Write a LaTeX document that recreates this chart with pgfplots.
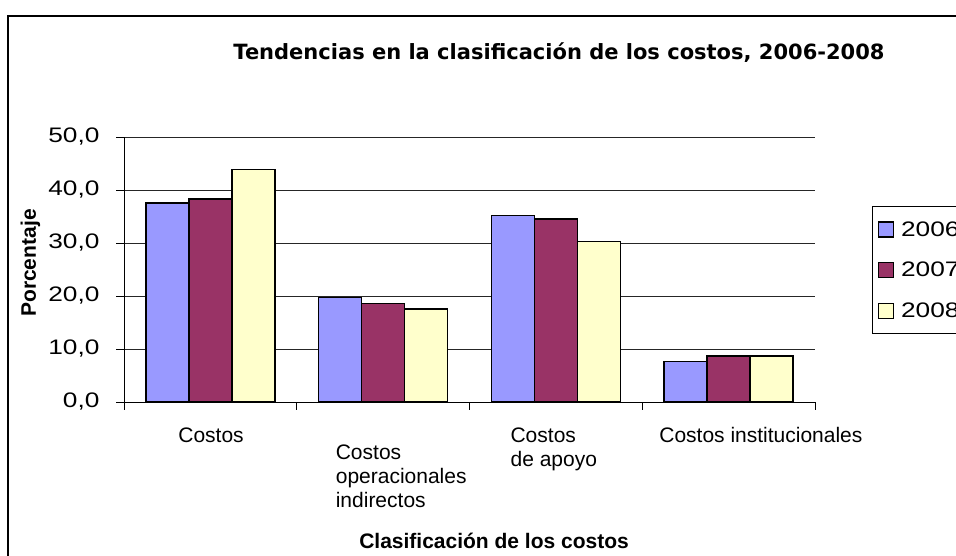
\documentclass[border=0pt]{standalone}
\usepackage{pgfplots}
\pgfplotsset{compat=1.18}
\usepackage{fontspec}
\setmainfont{Liberation Sans}
\newfontfamily\titlefont{DejaVu Sans}
\newfontfamily\widefont[FakeStretch=1.25]{Liberation Sans}
\definecolor{c2006}{HTML}{9999FF}
\definecolor{c2007}{HTML}{993366}
\definecolor{c2008}{HTML}{FFFFCC}
\newcommand\lab[3]{\makebox[0pt][l]{\hspace*{#1}\raisebox{#2}{\begin{tabular}[t]{@{}l@{}}#3\end{tabular}}}}
\begin{document}
\begin{tikzpicture}[x=1bp,y=1bp]
\path[use as bounding box] (0,0) rectangle (956,556);
\draw[line width=1.2bp] (8,-5) -- (8,540) -- (960,540);
\begin{axis}[
  at={(124bp,154bp)}, anchor=south west,
  width=691bp, height=265bp, scale only axis,
  xmin=-0.5, xmax=3.5, ymin=0, ymax=50,
  axis lines*=left,
  axis line style={line width=0.8bp, black},
  xtick={-0.5,0.5,1.5,2.5,3.5}, xticklabels={},
  extra x ticks={0,1,2,3},
  extra x tick labels={{\makebox[0pt]{Costos}},{\lab{-48bp}{-17bp}{Costos\\operacionales\\indirectos}},{\lab{-46bp}{0bp}{Costos\\de apoyo}},{\lab{-70bp}{0bp}{Costos institucionales}}},
  extra x tick style={major tick length=0pt, xticklabel style={anchor=base west, inner sep=0pt, yshift=-41bp, font=\fontsize{21bp}{24bp}\selectfont}},
  ytick={0,10,20,30,40,50},
  ymajorgrids, grid style={black!85, line width=0.9bp},
  tick align=outside, major tick length=8bp,
  tick style={black, line width=0.8bp},
  /pgf/number format/fixed, /pgf/number format/fixed zerofill,
  /pgf/number format/precision=1, /pgf/number format/use comma,
  /pgf/number format/assume math mode=true,
  yticklabel style={xshift=-13bp, font=\widefont\fontsize{21bp}{24bp}\selectfont},
  ybar=0pt, bar width=43bp,
  title={Tendencias en la clasificación de los costos, 2006-2008},
  title style={at={(axis description cs:0.6295,1.2717)}, anchor=base, font=\titlefont\bfseries\fontsize{21bp}{24bp}\selectfont},
  ylabel={Porcentaje},
  ylabel style={at={(axis description cs:-0.1274,0.5245)}, anchor=base, font=\bfseries\fontsize{21bp}{24bp}\selectfont},
  xlabel={Clasificación de los costos},
  xlabel style={at={(axis description cs:0.5355,-0.551)}, anchor=base, font=\bfseries\fontsize{21bp}{24bp}\selectfont},
  legend style={at={(axis description cs:1.0825,0.7396)}, anchor=north west, draw=black, line width=1bp,
    font=\widefont\fontsize{21bp}{24bp}\selectfont, inner xsep=5bp, inner ysep=13bp, row sep=20.5bp},
  legend cell align=left,
  legend image code/.code={\draw[#1, line width=1.2bp] (0bp,-7.5bp) rectangle (15bp,7.5bp); \path[draw=none, fill=none] (15bp,0bp) -- (21bp,0bp);},
]
\addplot[fill=c2006, draw=black, line width=1.5bp] coordinates {(0,37.5) (1,19.7) (2,35.2) (3,7.6)};
\addplot[fill=c2007, draw=black, line width=1.5bp] coordinates {(0,38.3) (1,18.6) (2,34.5) (3,8.7)};
\addplot[fill=c2008, draw=black, line width=1.5bp] coordinates {(0,43.9) (1,17.5) (2,30.3) (3,8.7)};
\legend{2006,2007,2008}
\end{axis}
\end{tikzpicture}
\end{document}
